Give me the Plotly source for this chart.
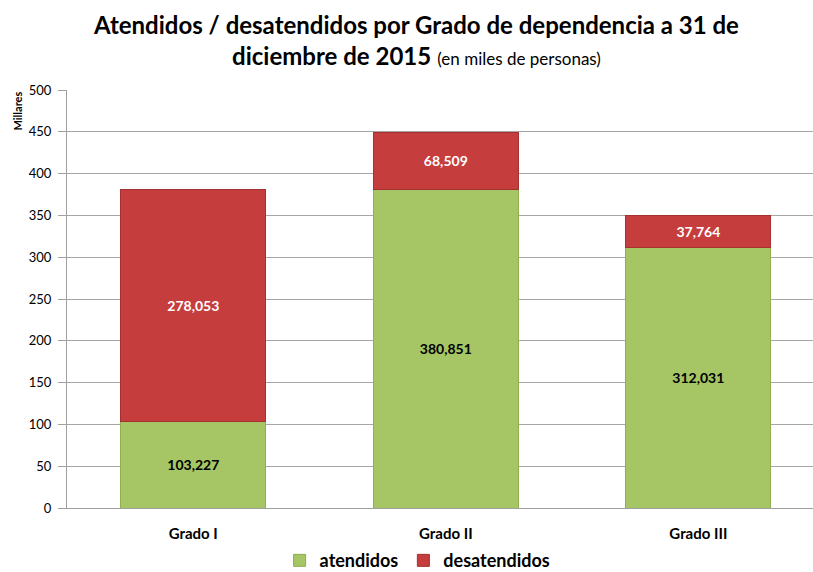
import plotly.graph_objects as go

categories = ["Grado I", "Grado II", "Grado III"]
atendidos = [103.227, 380.851, 312.031]
desatendidos = [278.053, 68.509, 37.764]
atendidos_labels = ["103,227", "380,851", "312,031"]
desatendidos_labels = ["278,053", "68,509", "37,764"]
y_ticks = [0, 50, 100, 150, 200, 250, 300, 350, 400, 450, 500]

FONT = "Lato, 'Open Sans', sans-serif"

fig = go.Figure()
fig.add_trace(go.Bar(
    x=categories, y=atendidos, name="atendidos",
    text=atendidos_labels, textposition="inside", insidetextanchor="middle",
    textfont=dict(family=FONT, size=14, color="#000000", weight="bold"),
    marker=dict(color="#A6C564", line=dict(color="#8FAE4E", width=1)),
))
fig.add_trace(go.Bar(
    x=categories, y=desatendidos, name="desatendidos",
    text=desatendidos_labels, textposition="inside", insidetextanchor="middle",
    textfont=dict(family=FONT, size=14, color="#FFFFFF", weight="bold"),
    marker=dict(color="#C63D3D", line=dict(color="#A53030", width=1)),
))

fig.update_layout(
    barmode="stack",
    bargap=0.426,
    width=813, height=572,
    margin=dict(l=67, r=0, t=90, b=64, autoexpand=False),
    paper_bgcolor="white", plot_bgcolor="white",
    font=dict(family=FONT, color="#000000"),
    xaxis=dict(
        range=[-0.5, 2.454], automargin=False,
        tickfont=dict(family=FONT, size=15, color="#000000", weight="bold"),
        showline=True, linecolor="#A0A0A0", linewidth=1,
        ticks="", showgrid=False, ticklabelstandoff=12,
    ),
    yaxis=dict(
        range=[0, 500], tickvals=y_ticks, automargin=False,
        tickfont=dict(family=FONT, size=13, color="#000000"),
        showline=True, linecolor="#A0A0A0", linewidth=1,
        ticks="outside", ticklen=8, tickcolor="#A0A0A0",
        showgrid=True, gridcolor="#A6A6A6", gridwidth=1,
        zeroline=False, ticklabelstandoff=4,
    ),
    legend=dict(
        orientation="h", x=0.47, xanchor="center",
        yref="paper", y=-0.126, yanchor="middle",
        font=dict(family=FONT, size=18, color="#000000", weight="bold"),
        itemwidth=30, traceorder="normal",
    ),
    annotations=[
        dict(
            text="<b>Atendidos / desatendidos por Grado de dependencia a 31 de</b><br><b>diciembre de 2015</b> <span style='font-size:17px'>(en miles de personas)</span>",
            xref="paper", yref="paper", x=0.468, y=1.12,
            xanchor="center", yanchor="middle", showarrow=False, align="center",
            font=dict(family=FONT, size=24, color="#000000"),
        ),
        dict(
            text="<b>Millares</b>", textangle=-90,
            xref="paper", yref="paper", x=-0.067, y=1.0,
            xanchor="center", yanchor="top", showarrow=False,
            font=dict(family=FONT, size=11, color="#000000"),
        ),
    ],
)

post = (
    "document.body.style.margin='0px';"
    "document.body.style.overflow='hidden';"
    "var gd=document.getElementById('{plot_id}');"
    "Plotly.relayout(gd, {width: 813, height: 572});"
)
fig.write_html("out.html", post_script=post, config={"displayModeBar": False})
